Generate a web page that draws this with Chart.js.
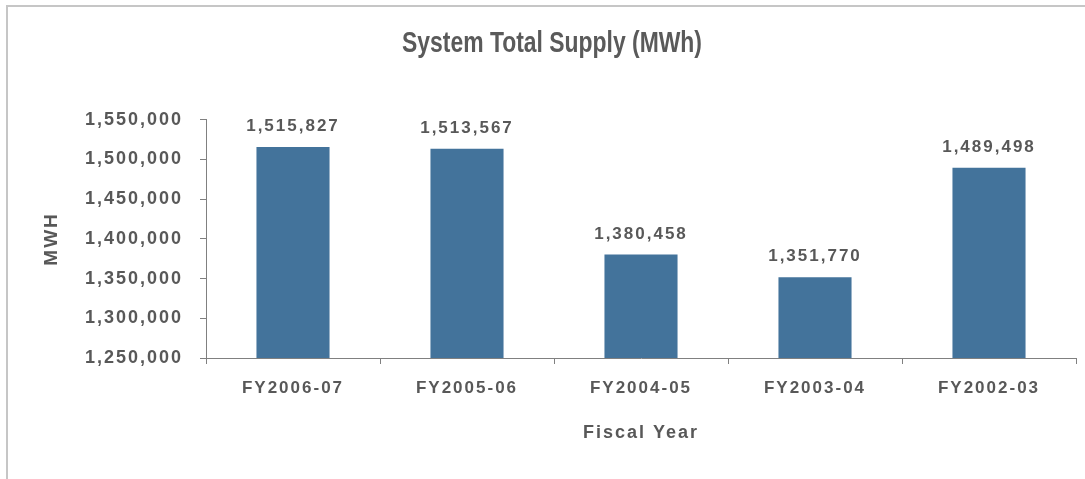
<!DOCTYPE html>
<html><head><meta charset="utf-8">
<script src="https://cdn.jsdelivr.net/npm/chart.js@4.4.0/dist/chart.umd.min.js"></script>
<style>
html,body{margin:0;padding:0;background:#fff;}
#wrap{position:relative;width:1085px;height:479px;}
#frame{position:absolute;left:6px;top:5px;right:0;bottom:0;border-top:2px solid #c6c6c6;border-left:2px solid #c6c6c6;pointer-events:none;}
canvas{display:block}
</style></head><body>
<div id="wrap"><canvas id="c" width="1085" height="479"></canvas><div id="frame"></div></div>
<script>
const categories = ['FY2006-07', 'FY2005-06', 'FY2004-05', 'FY2003-04', 'FY2002-03'];
const supplyMWh = [1515827, 1513567, 1380458, 1351770, 1489498];
const yTickValues = [1250000, 1300000, 1350000, 1400000, 1450000, 1500000, 1550000];
const chartTitle = 'System Total Supply (MWh)';
const xTitle = 'Fiscal Year';
const yTitle = 'MWH';

const TEXT = '#585858';
const AXIS = '#808080';
const FONT = "'Liberation Sans', Arial, sans-serif";
const fmt = v => Number(v).toLocaleString('en-US');

const spacing = {
  id: 'spacing',
  beforeUpdate(chart) { chart.ctx.letterSpacing = '2px'; },
  beforeDraw(chart) { chart.ctx.letterSpacing = '2px'; },
  afterLayout(chart) {
    const tb = chart.titleBlock;
    if (tb && !tb._condensed) {
      const orig = tb.draw.bind(tb);
      tb.draw = function () {
        const ctx = chart.ctx;
        const c0 = tb.left + tb.width / 2;
        ctx.save();
        ctx.letterSpacing = '0px';
        ctx.translate(552, 0);
        ctx.scale(0.79, 1);
        ctx.translate(-c0, 0);
        ctx.lineWidth = 0.8;
        ctx.strokeStyle = '#5a5a5a';
        orig();
        ctx.restore();
      };
      tb._condensed = true;
    }
  }
};

const valueLabels = {
  id: 'valueLabels',
  afterDatasetsDraw(chart) {
    const ctx = chart.ctx;
    const meta = chart.getDatasetMeta(0);
    ctx.save();
    ctx.letterSpacing = '2px';
    ctx.font = "bold 17px " + FONT;
    ctx.fillStyle = TEXT;
    ctx.textAlign = 'center';
    ctx.textBaseline = 'bottom';
    meta.data.forEach((bar, i) => {
      ctx.fillText(fmt(chart.data.datasets[0].data[i]), bar.x, bar.y - 12);
    });
    ctx.restore();
  }
};

new Chart(document.getElementById('c'), {
  type: 'bar',
  data: {
    labels: categories,
    datasets: [{
      data: supplyMWh,
      backgroundColor: '#43739b',
      borderWidth: 0,
      barPercentage: 0.42,
      categoryPercentage: 1.0
    }]
  },
  options: {
    responsive: false,
    animation: false,
    devicePixelRatio: 1,
    layout: { padding: { left: 40, right: 9, top: 0, bottom: 25 } },
    plugins: {
      legend: { display: false },
      tooltip: { enabled: false },
      title: {
        display: true,
        text: chartTitle,
        color: '#5a5a5a',
        font: { family: FONT, size: 29, weight: 'bold' },
        padding: { top: 27, bottom: 58 }
      }
    },
    scales: {
      x: {
        grid: { drawOnChartArea: false, drawTicks: true, tickLength: 6, offset: true, color: AXIS },
        border: { color: AXIS },
        ticks: { color: TEXT, font: { family: FONT, size: 17, weight: 'bold' }, padding: 14 },
        title: { display: true, text: xTitle, color: TEXT, font: { family: FONT, size: 18, weight: 'bold' }, padding: { top: 4, bottom: 10 } },
        afterFit(s) { s.height = 96; }
      },
      y: {
        min: 1250000,
        max: 1550000,
        afterBuildTicks(s) { s.ticks = yTickValues.map(v => ({ value: v })); },
        grid: { drawOnChartArea: false, drawTicks: true, tickLength: 6, color: AXIS },
        border: { color: AXIS },
        ticks: { color: TEXT, font: { family: FONT, size: 18, weight: 'bold' }, padding: 17, callback: v => fmt(v) },
        title: { display: true, text: yTitle, color: TEXT, font: { family: FONT, size: 19, weight: 'bold' }, padding: { top: 0, bottom: 0 } },
        afterFit(s) { s.width = 166; }
      }
    }
  },
  plugins: [spacing, valueLabels]
});
</script>
</body></html>
